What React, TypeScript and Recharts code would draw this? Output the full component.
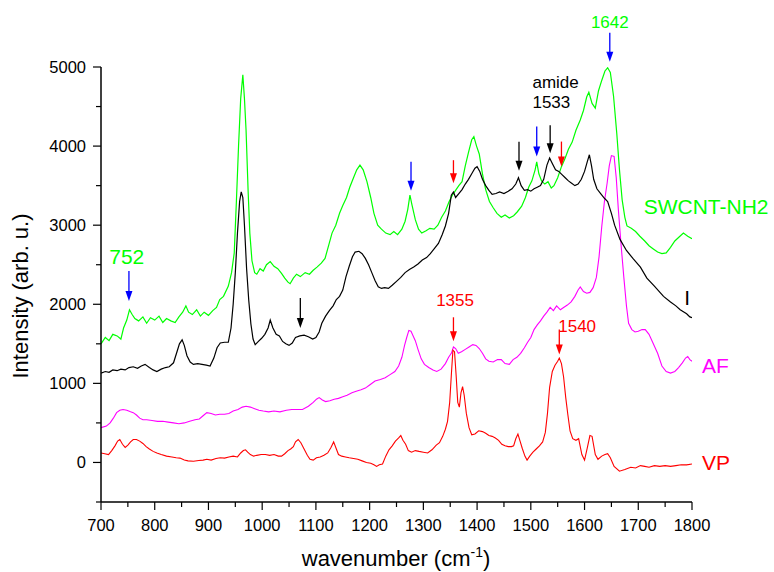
import React from 'react';
import { LineChart, Line, XAxis, YAxis, ReferenceDot } from 'recharts';

type Pt = [number, number];

// SWCNT-NH2 (green)
const swcntNH2: Pt[] = [
  [700, 1500], [708, 1580], [715, 1540], [722, 1620], [730, 1600], [737, 1560], [742, 1700], [748, 1800],
  [753, 1930], [758, 1870], [763, 1820], [770, 1790], [778, 1840], [785, 1760], [792, 1830], [800, 1800],
  [808, 1850], [815, 1770], [822, 1820], [830, 1790], [838, 1770], [845, 1840], [852, 1900], [858, 1980],
  [863, 1900], [870, 1870], [878, 1930], [885, 1850], [892, 1900], [900, 1860], [908, 1920], [915, 1960],
  [921, 2060], [928, 2100], [937, 2230], [943, 2400], [948, 2650], [952, 3300], [956, 4000], [960, 4600],
  [964, 4900], [967, 4600], [970, 4200], [974, 3400], [977, 2900], [981, 2550], [986, 2400], [990, 2380],
  [996, 2450], [1002, 2420], [1008, 2500], [1015, 2540], [1022, 2480], [1029, 2450], [1036, 2390], [1042, 2330],
  [1048, 2280], [1052, 2260], [1058, 2330], [1064, 2380], [1071, 2350], [1080, 2400], [1088, 2380], [1095, 2430],
  [1102, 2470], [1110, 2520], [1117, 2580], [1124, 2750], [1130, 2900], [1137, 3000], [1144, 3150], [1150, 3250],
  [1157, 3350], [1163, 3480], [1170, 3600], [1176, 3700], [1182, 3760], [1188, 3700], [1195, 3550], [1202, 3350],
  [1208, 3150], [1215, 3000], [1222, 2950], [1230, 2900], [1238, 2880], [1245, 2920], [1252, 2880], [1260, 2950],
  [1266, 3050], [1271, 3200], [1275, 3380], [1279, 3250], [1285, 3070], [1291, 2950], [1297, 2900], [1305, 2930],
  [1312, 2960], [1320, 2950], [1327, 3000], [1334, 3100], [1341, 3180], [1348, 3300], [1354, 3380], [1360, 3440],
  [1366, 3500], [1372, 3550], [1378, 3750], [1384, 3920], [1390, 4080], [1394, 4120], [1399, 4000], [1404, 3900],
  [1410, 3650], [1416, 3450], [1423, 3300], [1430, 3220], [1437, 3150], [1445, 3100], [1452, 3130], [1460, 3090],
  [1468, 3120], [1475, 3170], [1483, 3240], [1490, 3350], [1496, 3480], [1502, 3560], [1508, 3700], [1511, 3800],
  [1515, 3650], [1520, 3560], [1526, 3520], [1532, 3550], [1538, 3470], [1543, 3500], [1550, 3600], [1557, 3740],
  [1564, 3850], [1570, 3960], [1577, 4050], [1584, 4200], [1592, 4330], [1598, 4450], [1604, 4620], [1608, 4680],
  [1614, 4540], [1620, 4480], [1626, 4700], [1632, 4830], [1638, 4950], [1643, 4990], [1648, 4930], [1654, 4630],
  [1660, 4160], [1665, 3700], [1670, 3320], [1675, 3100], [1679, 2990], [1687, 2960], [1695, 2920], [1703, 2860],
  [1712, 2800], [1720, 2740], [1728, 2700], [1736, 2660], [1744, 2640], [1752, 2650], [1760, 2720], [1768, 2800],
  [1776, 2850], [1784, 2900], [1792, 2860], [1800, 2830],
];

// I (black)
const seriesI: Pt[] = [
  [700, 1130], [708, 1150], [715, 1140], [722, 1170], [730, 1160], [737, 1180], [745, 1170], [752, 1200],
  [760, 1210], [768, 1190], [775, 1220], [782, 1240], [790, 1200], [797, 1170], [804, 1150], [812, 1180],
  [820, 1200], [827, 1210], [835, 1260], [841, 1390], [846, 1500], [851, 1550], [855, 1480], [860, 1350],
  [866, 1270], [872, 1240], [880, 1250], [888, 1240], [896, 1230], [903, 1220], [910, 1320], [916, 1450],
  [922, 1510], [930, 1520], [937, 1520], [942, 1700], [946, 2000], [950, 2400], [954, 2900], [958, 3300],
  [961, 3420], [964, 3350], [967, 3000], [971, 2450], [975, 2050], [979, 1750], [983, 1560], [987, 1490],
  [993, 1530], [999, 1570], [1005, 1620], [1011, 1700], [1015, 1800], [1020, 1700], [1026, 1620], [1032, 1600],
  [1038, 1530], [1044, 1500], [1050, 1480], [1056, 1510], [1062, 1580], [1070, 1600], [1078, 1610], [1086, 1590],
  [1094, 1560], [1100, 1580], [1106, 1650], [1111, 1760], [1118, 1850], [1125, 1920], [1132, 1980], [1138, 2060],
  [1144, 2100], [1150, 2180], [1156, 2350], [1162, 2480], [1168, 2600], [1173, 2660], [1180, 2670], [1186, 2640],
  [1192, 2580], [1198, 2500], [1204, 2400], [1210, 2300], [1216, 2220], [1222, 2200], [1228, 2210], [1235, 2200],
  [1242, 2240], [1250, 2290], [1258, 2340], [1266, 2400], [1274, 2440], [1282, 2470], [1290, 2510], [1298, 2560],
  [1306, 2590], [1313, 2640], [1320, 2700], [1328, 2770], [1335, 2880], [1341, 2990], [1347, 3150], [1352, 3380],
  [1356, 3420], [1360, 3350], [1366, 3400], [1372, 3450], [1378, 3520], [1384, 3580], [1390, 3650], [1396, 3720],
  [1400, 3740], [1405, 3680], [1410, 3580], [1416, 3500], [1422, 3440], [1428, 3390], [1435, 3400], [1442, 3420],
  [1450, 3400], [1458, 3430], [1465, 3460], [1472, 3520], [1477, 3600], [1482, 3500], [1488, 3440], [1494, 3450],
  [1500, 3430], [1506, 3460], [1512, 3480], [1518, 3500], [1524, 3580], [1530, 3760], [1535, 3850], [1540, 3780],
  [1546, 3700], [1552, 3680], [1558, 3640], [1564, 3600], [1570, 3560], [1576, 3530], [1582, 3500], [1588, 3520],
  [1594, 3580], [1600, 3680], [1605, 3800], [1609, 3890], [1613, 3750], [1617, 3580], [1623, 3460], [1630, 3400],
  [1637, 3340], [1643, 3300], [1650, 3150], [1656, 3000], [1666, 2820], [1678, 2680], [1690, 2580], [1704, 2470],
  [1716, 2330], [1730, 2230], [1747, 2100], [1760, 2030], [1770, 1980], [1778, 1930], [1790, 1880], [1796, 1840],
  [1800, 1830],
];

// AF (magenta)
const seriesAF: Pt[] = [
  [700, 440], [710, 460], [717, 500], [723, 560], [729, 630], [735, 660], [741, 670], [748, 660],
  [755, 640], [760, 630], [766, 600], [772, 560], [778, 540], [785, 540], [795, 530], [805, 520],
  [815, 520], [825, 510], [835, 500], [845, 490], [855, 500], [865, 520], [875, 540], [883, 550],
  [890, 590], [897, 630], [905, 620], [913, 600], [921, 610], [930, 610], [938, 620], [946, 650],
  [955, 670], [963, 700], [970, 710], [978, 700], [986, 680], [994, 660], [1002, 650], [1012, 640],
  [1022, 650], [1033, 640], [1045, 660], [1055, 670], [1065, 670], [1075, 670], [1086, 710], [1095, 760],
  [1101, 800], [1106, 820], [1112, 790], [1118, 770], [1126, 780], [1134, 800], [1142, 810], [1150, 830],
  [1158, 850], [1167, 880], [1175, 900], [1184, 920], [1192, 940], [1200, 980], [1210, 1030], [1220, 1050],
  [1229, 1070], [1238, 1110], [1247, 1150], [1254, 1220], [1260, 1330], [1265, 1480], [1269, 1580], [1273, 1670],
  [1277, 1660], [1281, 1600], [1285, 1540], [1290, 1430], [1296, 1310], [1302, 1240], [1310, 1200], [1318, 1170],
  [1325, 1150], [1333, 1180], [1341, 1250], [1347, 1330], [1352, 1380], [1356, 1460], [1360, 1440], [1365, 1380],
  [1371, 1400], [1378, 1430], [1385, 1460], [1392, 1490], [1398, 1480], [1404, 1440], [1410, 1380], [1416, 1310],
  [1422, 1280], [1430, 1270], [1438, 1300], [1445, 1300], [1452, 1250], [1460, 1240], [1467, 1300], [1474, 1330],
  [1481, 1380], [1488, 1450], [1494, 1520], [1500, 1580], [1506, 1680], [1512, 1740], [1518, 1790], [1524, 1850],
  [1530, 1900], [1536, 1960], [1542, 1920], [1548, 1980], [1555, 1930], [1561, 1960], [1568, 1990], [1575, 2030],
  [1582, 2100], [1588, 2180], [1592, 2220], [1598, 2160], [1604, 2140], [1610, 2150], [1616, 2210], [1622, 2340],
  [1627, 2600], [1632, 2980], [1637, 3300], [1642, 3530], [1646, 3750], [1650, 3880], [1655, 3870], [1659, 3600],
  [1663, 3190], [1668, 2750], [1673, 2350], [1678, 1980], [1682, 1760], [1688, 1680], [1694, 1650], [1700, 1660],
  [1707, 1680], [1713, 1680], [1720, 1620], [1728, 1500], [1736, 1380], [1744, 1220], [1752, 1150], [1760, 1130],
  [1768, 1150], [1775, 1200], [1782, 1260], [1788, 1320], [1792, 1340], [1796, 1300], [1800, 1280],
];

// VP (red)
const seriesVP: Pt[] = [
  [700, 120], [707, 110], [714, 100], [720, 150], [726, 210], [731, 270], [735, 290], [740, 230],
  [745, 190], [750, 220], [755, 260], [760, 290], [766, 290], [772, 270], [778, 240], [784, 200],
  [790, 170], [797, 140], [804, 120], [812, 100], [822, 80], [832, 70], [840, 60], [847, 55],
  [855, 30], [862, 20], [872, 15], [882, 25], [890, 30], [897, 40], [905, 30], [914, 50],
  [922, 60], [930, 55], [938, 70], [946, 80], [954, 70], [960, 120], [965, 150], [969, 160],
  [973, 130], [978, 100], [984, 80], [990, 90], [998, 100], [1006, 100], [1014, 90], [1022, 100],
  [1030, 80], [1036, 80], [1042, 110], [1048, 150], [1053, 170], [1058, 200], [1062, 260], [1067, 290],
  [1072, 250], [1078, 170], [1084, 90], [1089, 40], [1095, 30], [1101, 60], [1108, 70], [1115, 90],
  [1122, 120], [1128, 190], [1133, 260], [1137, 190], [1142, 100], [1148, 80], [1155, 70], [1162, 60],
  [1170, 50], [1178, 40], [1186, 20], [1194, 0], [1202, -10], [1208, -30], [1213, -50], [1218, -30],
  [1224, -20], [1230, 80], [1236, 160], [1242, 210], [1248, 270], [1254, 310], [1258, 340], [1262, 280],
  [1267, 230], [1272, 150], [1278, 130], [1285, 150], [1292, 140], [1300, 130], [1308, 120], [1316, 160],
  [1324, 220], [1330, 250], [1336, 330], [1341, 420], [1345, 520], [1349, 760], [1352, 1100], [1355, 1420],
  [1358, 1400], [1361, 1100], [1364, 760], [1367, 700], [1370, 880], [1373, 960], [1376, 850], [1380, 620],
  [1385, 440], [1390, 350], [1396, 360], [1403, 400], [1410, 390], [1416, 370], [1422, 340], [1428, 330],
  [1434, 310], [1440, 280], [1446, 230], [1452, 210], [1458, 200], [1464, 200], [1468, 210], [1472, 300],
  [1476, 360], [1480, 270], [1484, 180], [1489, 80], [1493, 30], [1498, 80], [1504, 130], [1510, 170],
  [1516, 210], [1522, 260], [1527, 380], [1531, 620], [1535, 950], [1540, 1150], [1545, 1230], [1550, 1280],
  [1553, 1320], [1557, 1250], [1561, 1080], [1565, 820], [1569, 600], [1573, 400], [1578, 300], [1584, 280],
  [1589, 300], [1595, 100], [1600, 30], [1605, 180], [1610, 340], [1614, 330], [1620, 100], [1625, 40],
  [1632, 80], [1638, 100], [1643, 110], [1648, 60], [1655, -50], [1665, -110], [1675, -90], [1686, -60],
  [1695, -70], [1704, -40], [1712, -50], [1720, -60], [1730, -40], [1740, -50], [1750, -40], [1760, -50],
  [1770, -40], [1780, -30], [1790, -30], [1800, -20],
];

const xTicks = [700, 750, 800, 850, 900, 950, 1000, 1050, 1100, 1150, 1200, 1250, 1300, 1350, 1400, 1450, 1500, 1550, 1600, 1650, 1700, 1750, 1800];
const yTicks = [-500, 0, 500, 1000, 1500, 2000, 2500, 3000, 3500, 4000, 4500, 5000];

// arrow annotations: wavenumber, intensity of the arrow tip, colour
const arrowWn = [752, 1071, 1277, 1356, 1478, 1511, 1536, 1557, 1647, 1356, 1553];
const arrowTip = [2040, 1700, 3434, 3531, 3687, 3867, 3910, 3741, 5067, 1532, 1364];
const arrowColor = ['#0000ff', '#000000', '#0000ff', '#ff0000', '#000000', '#0000ff', '#000000', '#ff0000', '#0000ff', '#ff0000', '#ff0000'];

// text annotations
const noteText = ['752', '1642', 'amide', '1533', 'SWCNT-NH2', 'I', 'AF', 'VP', '1355', '1540'];
const noteWn = [748, 1647, 1503, 1503, 1710, 1791, 1818.5, 1818.5, 1359, 1551];
const noteAt = [2510, 5488, 4739, 4478, 3141, 1995, 1136, -98, 1982, 1645];
const noteColor = ['#00ff00', '#00ff00', '#000000', '#000000', '#00ff00', '#000000', '#ff00ff', '#ff0000', '#ff0000', '#ff0000'];

const FONT = '"Liberation Sans", Arial, Helvetica, sans-serif';
const noteSize = [21, 17, 17, 17, 21, 21, 21, 21, 17, 17];
const noteAnchor = ['middle', 'middle', 'start', 'start', 'start', 'middle', 'start', 'start', 'middle', 'start'];
const arrowLen = [30, 30, 29, 23, 29, 30, 28, 25, 29, 24, 25];

const rows = (pts: Pt[]) => pts.map(([x, y]) => ({ x, y }));

const XTick = (props: any) => {
  const { x, y, payload } = props;
  const v = payload.value;
  const major = v % 100 === 0;
  return (
    <g>
      <line x1={x} x2={x} y1={y} y2={y + (major ? 8 : 5)} stroke="#000" strokeWidth={1.2} />
      {major && (
        <text x={x} y={y + 29} textAnchor="middle" fontSize={16.5} fontFamily={FONT} fill="#000">
          {v}
        </text>
      )}
    </g>
  );
};

const YTick = (props: any) => {
  const { x, y, payload } = props;
  const v = payload.value;
  const major = v % 1000 === 0;
  return (
    <g>
      <line x1={x - (major ? 8 : 5)} x2={x} y1={y} y2={y} stroke="#000" strokeWidth={1.2} />
      {major && v >= 0 && (
        <text x={x - 15} y={y + 6} textAnchor="end" fontSize={16.5} fontFamily={FONT} fill="#000">
          {v}
        </text>
      )}
    </g>
  );
};

const XTitle = () => (
  <text x={396} y={566} textAnchor="middle" fontSize={22} fontFamily={FONT} fill="#000">
    wavenumber (cm
    <tspan dy={-9} fontSize={14}>-1</tspan>
    <tspan dy={9}>)</tspan>
  </text>
);

const YTitle = () => (
  <text transform="translate(28,296) rotate(-90)" textAnchor="middle" fontSize={22} fontFamily={FONT} fill="#000">
    Intensity (arb. u.)
  </text>
);

const makeArrow = (color: string, len: number) => (p: any) => {
  const { cx, cy } = p;
  const head = 10;
  return (
    <g>
      <line x1={cx} x2={cx} y1={cy - len} y2={cy - head + 1} stroke={color} strokeWidth={1.3} />
      <polygon points={`${cx - 3.5},${cy - head} ${cx + 3.5},${cy - head} ${cx},${cy}`} fill={color} />
    </g>
  );
};

const makeNote = (text: string, color: string, size: number, anchor: string) => (p: any) => (
  <text x={p.cx} y={p.cy} textAnchor={anchor as any} fontSize={size} fontFamily={FONT} fill={color}>
    {text}
  </text>
);

export default function App() {
  return (
    <div style={{ position: 'absolute', left: 0, top: 0, background: '#fff' }}>
      <LineChart width={774} height={572} margin={{ top: 67, right: 82, bottom: 0, left: 0 }}>
        <XAxis
          dataKey="x"
          type="number"
          domain={[700, 1800]}
          allowDataOverflow
          ticks={xTicks}
          interval={0}
          tickSize={0}
          tickMargin={0}
          tick={<XTick />}
          height={70}
          stroke="#000"
          strokeWidth={1.5}
          label={XTitle}
        />
        <YAxis
          dataKey="y"
          type="number"
          domain={[-500, 5000]}
          allowDataOverflow
          ticks={yTicks}
          interval={0}
          tickSize={0}
          tickMargin={0}
          tick={<YTick />}
          width={101}
          stroke="#000"
          strokeWidth={1.5}
          label={YTitle}
        />
        <Line data={rows(swcntNH2)} dataKey="y" stroke="#00ff00" strokeWidth={1.2} dot={false} isAnimationActive={false} type="linear" />
        <Line data={rows(seriesAF)} dataKey="y" stroke="#ff00ff" strokeWidth={1.1} dot={false} isAnimationActive={false} type="linear" />
        <Line data={rows(seriesVP)} dataKey="y" stroke="#ff0000" strokeWidth={1.1} dot={false} isAnimationActive={false} type="linear" />
        <Line data={rows(seriesI)} dataKey="y" stroke="#000000" strokeWidth={1.2} dot={false} isAnimationActive={false} type="linear" />
        {arrowWn.map((wn, i) => (
          <ReferenceDot key={'a' + i} x={wn} y={arrowTip[i]} r={1} ifOverflow="visible" shape={makeArrow(arrowColor[i], arrowLen[i])} />
        ))}
        {noteText.map((t, i) => (
          <ReferenceDot key={'n' + i} x={noteWn[i]} y={noteAt[i]} r={1} ifOverflow="visible" shape={makeNote(t, noteColor[i], noteSize[i], noteAnchor[i])} />
        ))}
      </LineChart>
    </div>
  );
}
